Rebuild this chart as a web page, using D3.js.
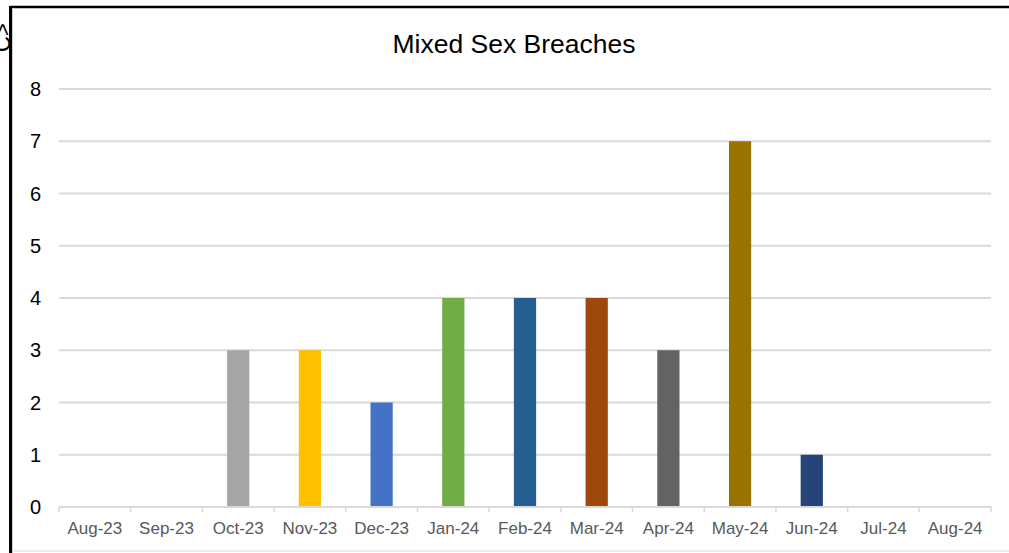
<!DOCTYPE html>
<html lang="en">
<head>
<meta charset="UTF-8">
<script src="https://cdnjs.cloudflare.com/ajax/libs/d3/7.8.5/d3.min.js"></script>
<style>
  body { margin: 0; background: #fff; font-family: Arial, 'Liberation Sans', sans-serif; overflow: hidden; }
  .x-axis text { fill: #595959; font-size: 17px; }
  .y-axis text { fill: #000; font-size: 20px; }
</style>
</head>
<body>
<svg id="chart"></svg>
<script>
const months = ['Aug-23', 'Sep-23', 'Oct-23', 'Nov-23', 'Dec-23', 'Jan-24', 'Feb-24', 'Mar-24', 'Apr-24', 'May-24', 'Jun-24', 'Jul-24', 'Aug-24']
const breaches = [0, 0, 3, 3, 2, 4, 4, 4, 3, 7, 1, 0, 0]
const barColors = ['#a5a5a5', '#a5a5a5', '#a5a5a5', '#ffc000', '#4472c4', '#70ad47', '#255e91', '#9e480e', '#636363', '#997300', '#264478', '#264478', '#264478']
const yTicks = [0, 1, 2, 3, 4, 5, 6, 7, 8]

const W = 1009, H = 553
const margin = {top: 89, bot: 46, left: 59, right: 18}
const w = W - margin.left - margin.right
const h = H - margin.top - margin.bot

const svg = d3.select('#chart').attr('width', W).attr('height', H)

// frame
svg.append('line').attr('x1', 10).attr('x2', W).attr('y1', 7).attr('y2', 7)
    .attr('stroke', '#000').attr('stroke-width', 2.5)
svg.append('line').attr('x1', 10.5).attr('x2', 10.5).attr('y1', 6).attr('y2', H)
    .attr('stroke', '#000').attr('stroke-width', 3)
svg.append('line').attr('x1', 12.5).attr('x2', 12.5).attr('y1', 8).attr('y2', H)
    .attr('stroke', '#d0d0d0').attr('stroke-width', 1)
svg.append('line').attr('x1', 12).attr('x2', W).attr('y1', 551).attr('y2', 551)
    .attr('stroke', '#d9d9d9').attr('stroke-width', 1)

// label cut off at the left edge of the picture
svg.append('text')
    .attr('transform', 'translate(10,52) rotate(-90)')
    .attr('font-size', '22px')
    .attr('fill', '#000')
    .text('C>')

const g = svg.append('g').attr('transform', 'translate(' + margin.left + ',' + margin.top + ')')

const xScale = d3.scaleBand().domain(months).range([0, w]).paddingInner(0.69).paddingOuter(0.345)
const xEdges = d3.scaleLinear().domain([0, months.length]).range([0, w])
const yScale = d3.scaleLinear().domain([0, 8]).range([h, 0])

// gridlines
g.selectAll('.grid')
    .data(yTicks.slice(1))
    .enter()
    .append('line')
    .attr('x1', 0).attr('x2', w)
    .attr('y1', d => yScale(d)).attr('y2', d => yScale(d))
    .attr('stroke', '#d9d9d9').attr('stroke-width', 2)

// bars
g.selectAll('.bar')
    .data(breaches)
    .enter()
    .append('rect')
    .attr('x', (d, i) => xScale(months[i]))
    .attr('y', d => yScale(d))
    .attr('width', xScale.bandwidth())
    .attr('height', d => h - yScale(d))
    .attr('fill', (d, i) => barColors[i])

// x axis
g.append('line').attr('x1', 0).attr('x2', w).attr('y1', h).attr('y2', h)
    .attr('stroke', '#d9d9d9').attr('stroke-width', 2)
g.selectAll('.xtick')
    .data(d3.range(months.length + 1))
    .enter()
    .append('line')
    .attr('x1', d => xEdges(d)).attr('x2', d => xEdges(d))
    .attr('y1', h).attr('y2', h + 5)
    .attr('stroke', '#d9d9d9').attr('stroke-width', 1.5)
g.append('g').attr('class', 'x-axis')
    .selectAll('text')
    .data(months)
    .enter()
    .append('text')
    .attr('x', d => xScale(d) + xScale.bandwidth() / 2)
    .attr('y', h + 27)
    .attr('text-anchor', 'middle')
    .text(d => d)

// y axis labels
g.append('g').attr('class', 'y-axis')
    .selectAll('text')
    .data(yTicks)
    .enter()
    .append('text')
    .attr('x', -18)
    .attr('y', d => yScale(d))
    .attr('dy', '0.35em')
    .attr('text-anchor', 'end')
    .text(d => d)

// title
svg.append('text')
    .attr('x', 514).attr('y', 53)
    .attr('text-anchor', 'middle')
    .attr('font-size', '26.5px')
    .attr('fill', '#000')
    .text('Mixed Sex Breaches')
</script>
</body>
</html>
